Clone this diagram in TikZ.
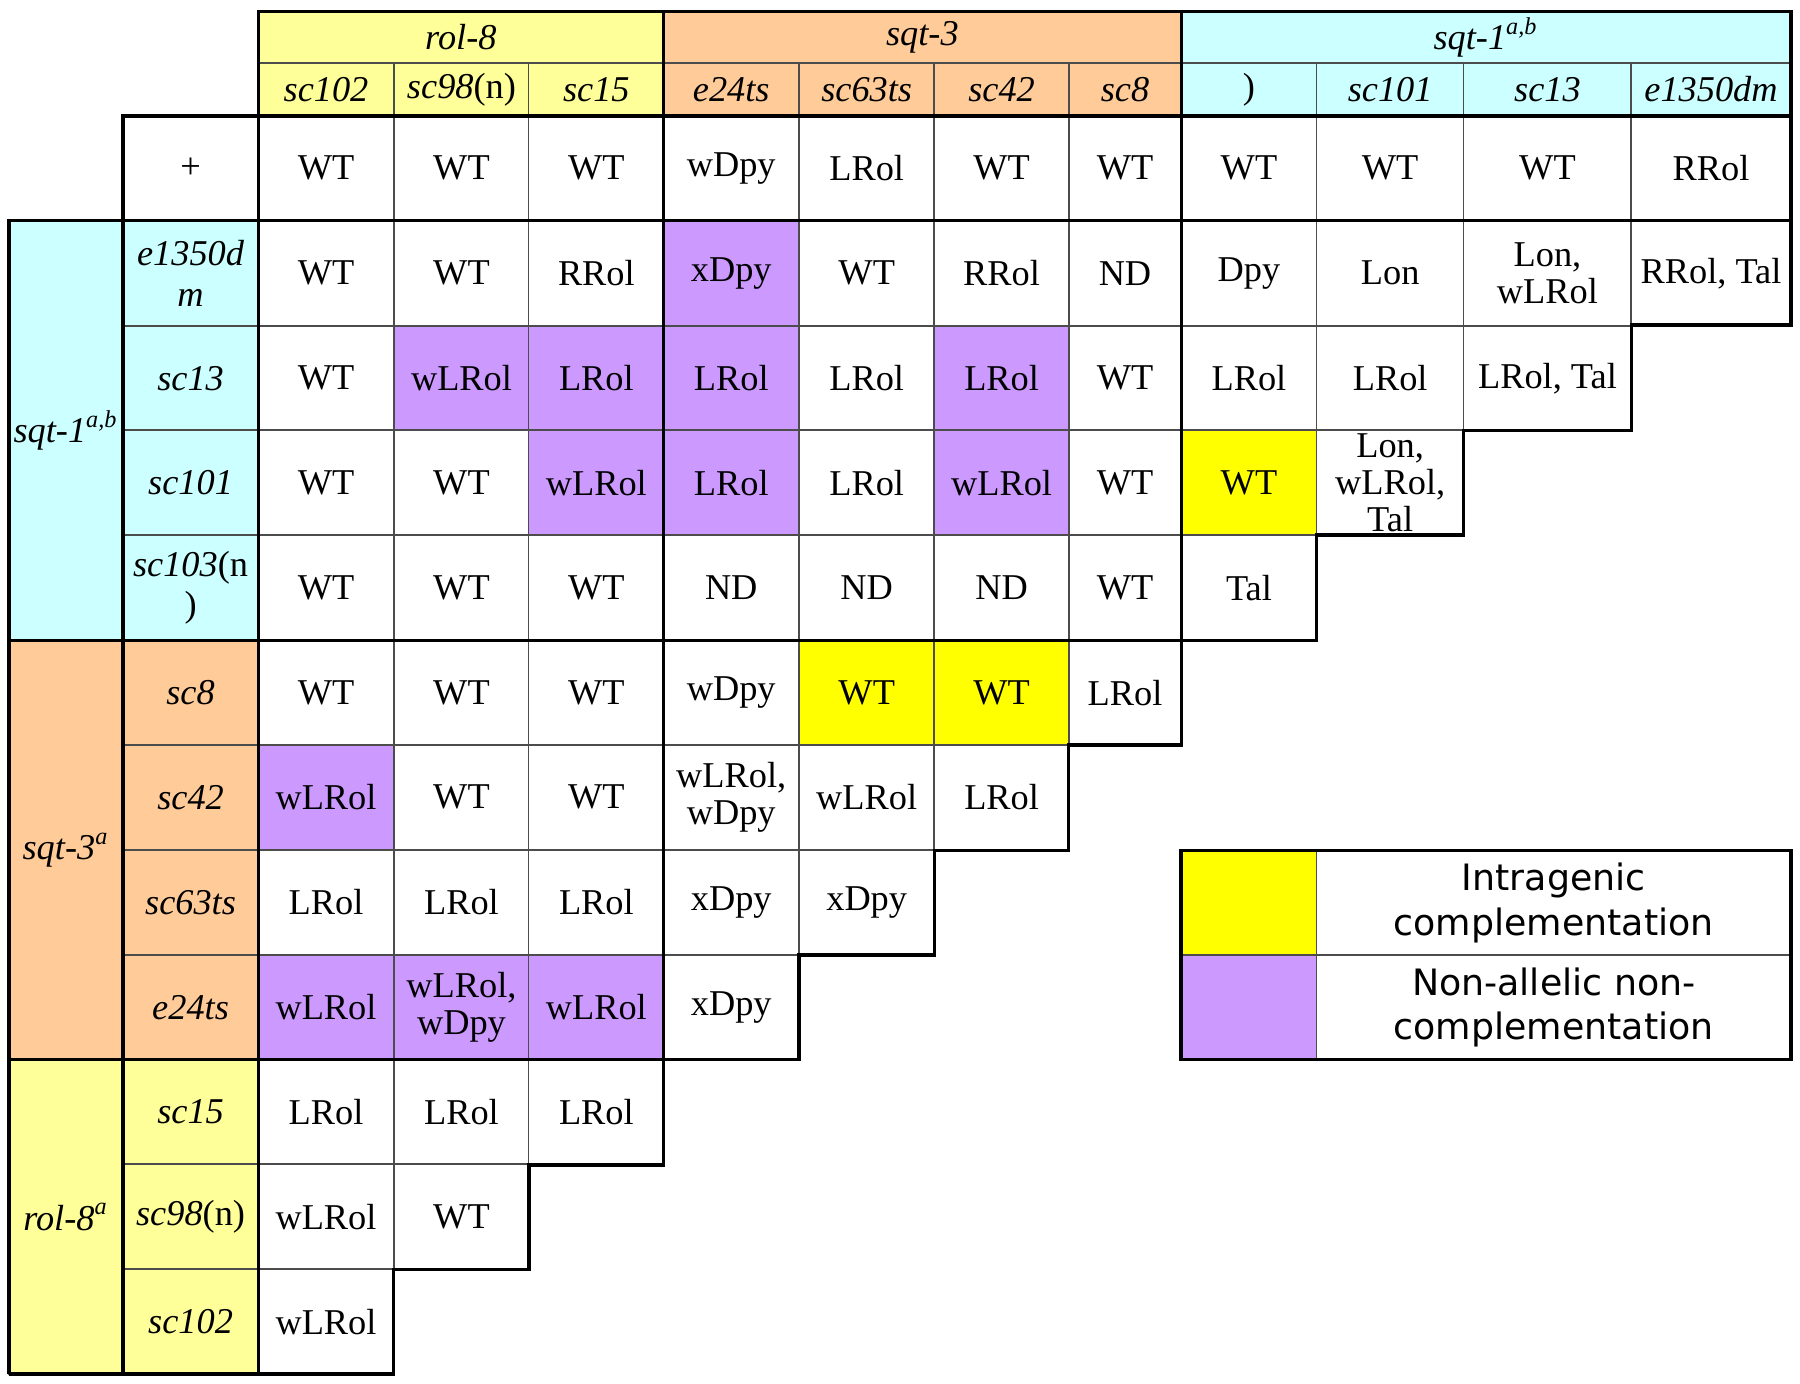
\documentclass[tikz,border=0pt]{standalone}
\usepackage{fontspec}
\setmainfont{Liberation Serif}
\newfontfamily\legfont{DejaVu Sans}
\usepackage{xcolor}
\usepackage{tikz}

\definecolor{rolcol}{HTML}{FFFF99}
\definecolor{sqtthree}{HTML}{FFCC99}
\definecolor{sqtone}{HTML}{CCFFFF}
\definecolor{naccol}{HTML}{CC99FF}
\definecolor{intracol}{HTML}{FFFF00}

\tikzstyle{cell} = [draw=black!70, line width=0.4pt, fill=white, minimum width=1.18cm, minimum height=0.913cm, inner sep=0pt, outer sep=0pt, align=center, font=\fontsize{9}{9.2}\selectfont]
\tikzstyle{lbl} = [cell, font=\fontsize{9}{10}\selectfont\itshape]
\tikzstyle{hdr} = [lbl, minimum height=0.46cm]
\tikzstyle{wb} = [minimum width=0.98cm]
\tikzstyle{wc} = [minimum width=1.28cm]
\tikzstyle{wd} = [minimum width=1.46cm]
\tikzstyle{we} = [minimum width=1.39cm]
\tikzstyle{nac} = [fill=naccol]
\tikzstyle{intra} = [fill=intracol]
\tikzstyle{border} = [line width=0.85pt, line join=miter]
\tikzstyle{legtext} = [cell, minimum width=4.13cm, font=\legfont\fontsize{9}{11}\selectfont]

\begin{document}
\begin{tikzpicture}[x=0.01cm, y=-0.01cm]
		\useasboundingbox (0,0) rectangle (1568,1205);

		% column headers
		\node (hrol) [hdr, fill=rolcol, minimum width=3.53cm, minimum height=0.45cm] at (401.5,32.5) {\raisebox{-1.5pt}{rol-8}};
		\node (hsqc) [hdr, fill=sqtthree, minimum width=4.51cm, minimum height=0.45cm] at (803.5,32.5) {sqt-3};
		\node (hsqa) [hdr, fill=sqtone, minimum width=5.31cm, minimum height=0.45cm] at (1294.5,32.5) {\raisebox{-2.2pt}{sqt-1\textsuperscript{a,b}}};

		\node (hsc102) [hdr, fill=rolcol] at (284,78) {\raisebox{-0.6pt}{sc102}};
		\node (hsc98) [hdr, fill=rolcol] at (402,78) {\raisebox{-0.6pt}{sc98\textup{(n)}}};
		\node (hsc15) [hdr, fill=rolcol] at (519.5,78) {\raisebox{-0.6pt}{sc15}};
		\node (he24) [hdr, fill=sqtthree] at (637,78) {\raisebox{-0.6pt}{e24ts}};
		\node (hsc63) [hdr, fill=sqtthree] at (755,78) {\raisebox{-0.6pt}{sc63ts}};
		\node (hsc42) [hdr, fill=sqtthree] at (872.5,78) {\raisebox{-0.6pt}{sc42}};
		\node (hsc8) [hdr, wb, fill=sqtthree] at (980,78) {\raisebox{-0.6pt}{sc8}};
		\node (hsc103) [hdr, fill=sqtone] at (1088,78) {\raisebox{-0.6pt}{\textup{)}}};
		\node (hsc101) [hdr, wc, fill=sqtone] at (1211,78) {\raisebox{-0.6pt}{sc101}};
		\node (hsc13) [hdr, wd, fill=sqtone] at (1348,78) {\raisebox{-0.6pt}{sc13}};
		\node (he1350) [hdr, we, fill=sqtone] at (1490.5,78) {\raisebox{-0.6pt}{e1350dm}};

		% row groups and row labels
		\node (gsqa) [lbl, fill=sqtone, minimum width=0.99cm, minimum height=3.66cm] at (57.5,375) {sqt-1\textsuperscript{a,b}};
		\node (gsqc) [lbl, fill=sqtthree, minimum width=0.99cm, minimum height=3.65cm] at (57.5,740.5) {sqt-3\textsuperscript{a}};
		\node (grol) [lbl, fill=rolcol, minimum width=0.99cm, minimum height=2.74cm] at (57.5,1060) {rol-8\textsuperscript{a}};

		\node (lplus) [cell] at (166,146.5) {+};
		\node (le1350) [lbl, fill=sqtone] at (166,238) {e1350d\\m};
		\node (lsc13) [lbl, fill=sqtone] at (166,329.5) {sc13};
		\node (lsc101) [lbl, fill=sqtone] at (166,420.5) {sc101};
		\node (lsc103) [lbl, fill=sqtone] at (166,512) {sc103\textup{(n}\\\textup{)}};
		\node (lsc8) [lbl, fill=sqtthree] at (166,603.5) {sc8};
		\node (lsc42) [lbl, fill=sqtthree] at (166,694.5) {sc42};
		\node (lsc63) [lbl, fill=sqtthree] at (166,786) {sc63ts};
		\node (le24) [lbl, fill=sqtthree] at (166,877.5) {e24ts};
		\node (lsc15) [lbl, fill=rolcol] at (166,968.5) {sc15};
		\node (lsc98) [lbl, fill=rolcol] at (166,1060) {sc98\textup{(n)}};
		\node (lsc102) [lbl, fill=rolcol] at (166,1151.5) {sc102};

		% row +
		\node (p1) [cell] at (284,146.5) {WT};
		\node (p2) [cell] at (402,146.5) {WT};
		\node (p3) [cell] at (519.5,146.5) {WT};
		\node (p4) [cell] at (637,146.5) {wDpy};
		\node (p5) [cell] at (755,146.5) {LRol};
		\node (p6) [cell] at (872.5,146.5) {WT};
		\node (p7) [cell, wb] at (980,146.5) {WT};
		\node (p8) [cell] at (1088,146.5) {WT};
		\node (p9) [cell, wc] at (1211,146.5) {WT};
		\node (p10) [cell, wd] at (1348,146.5) {WT};
		\node (p11) [cell, we] at (1490.5,146.5) {RRol};

		% row e1350dm
		\node (a1) [cell] at (284,238) {WT};
		\node (a2) [cell] at (402,238) {WT};
		\node (a3) [cell] at (519.5,238) {RRol};
		\node (a4) [cell, nac] at (637,238) {xDpy};
		\node (a5) [cell] at (755,238) {WT};
		\node (a6) [cell] at (872.5,238) {RRol};
		\node (a7) [cell, wb] at (980,238) {ND};
		\node (a8) [cell] at (1088,238) {Dpy};
		\node (a9) [cell, wc] at (1211,238) {Lon};
		\node (a10) [cell, wd] at (1348,238) {Lon,\\wLRol};
		\node (a11) [cell, we] at (1490.5,238) {RRol, Tal};

		% row sc13
		\node (b1) [cell] at (284,329.5) {WT};
		\node (b2) [cell, nac] at (402,329.5) {wLRol};
		\node (b3) [cell, nac] at (519.5,329.5) {LRol};
		\node (b4) [cell, nac] at (637,329.5) {LRol};
		\node (b5) [cell] at (755,329.5) {LRol};
		\node (b6) [cell, nac] at (872.5,329.5) {LRol};
		\node (b7) [cell, wb] at (980,329.5) {WT};
		\node (b8) [cell] at (1088,329.5) {LRol};
		\node (b9) [cell, wc] at (1211,329.5) {LRol};
		\node (b10) [cell, wd] at (1348,329.5) {LRol, Tal};

		% row sc101
		\node (c1) [cell] at (284,420.5) {WT};
		\node (c2) [cell] at (402,420.5) {WT};
		\node (c3) [cell, nac] at (519.5,420.5) {wLRol};
		\node (c4) [cell, nac] at (637,420.5) {LRol};
		\node (c5) [cell] at (755,420.5) {LRol};
		\node (c6) [cell, nac] at (872.5,420.5) {wLRol};
		\node (c7) [cell, wb] at (980,420.5) {WT};
		\node (c8) [cell, intra] at (1088,420.5) {WT};
		\node (c9) [cell, wc] at (1211,420.5) {Lon,\\wLRol,\\Tal};

		% row sc103(n)
		\node (d1) [cell] at (284,512) {WT};
		\node (d2) [cell] at (402,512) {WT};
		\node (d3) [cell] at (519.5,512) {WT};
		\node (d4) [cell] at (637,512) {ND};
		\node (d5) [cell] at (755,512) {ND};
		\node (d6) [cell] at (872.5,512) {ND};
		\node (d7) [cell, wb] at (980,512) {WT};
		\node (d8) [cell] at (1088,512) {Tal};

		% row sc8
		\node (e1) [cell] at (284,603.5) {WT};
		\node (e2) [cell] at (402,603.5) {WT};
		\node (e3) [cell] at (519.5,603.5) {WT};
		\node (e4) [cell] at (637,603.5) {wDpy};
		\node (e5) [cell, intra] at (755,603.5) {WT};
		\node (e6) [cell, intra] at (872.5,603.5) {WT};
		\node (e7) [cell, wb] at (980,603.5) {LRol};

		% row sc42
		\node (f1) [cell, nac] at (284,694.5) {wLRol};
		\node (f2) [cell] at (402,694.5) {WT};
		\node (f3) [cell] at (519.5,694.5) {WT};
		\node (f4) [cell] at (637,694.5) {wLRol,\\wDpy};
		\node (f5) [cell] at (755,694.5) {wLRol};
		\node (f6) [cell] at (872.5,694.5) {LRol};

		% row sc63ts
		\node (g1) [cell] at (284,786) {LRol};
		\node (g2) [cell] at (402,786) {LRol};
		\node (g3) [cell] at (519.5,786) {LRol};
		\node (g4) [cell] at (637,786) {xDpy};
		\node (g5) [cell] at (755,786) {xDpy};

		% row e24ts
		\node (h1) [cell, nac] at (284,877.5) {wLRol};
		\node (h2) [cell, nac] at (402,877.5) {wLRol,\\wDpy};
		\node (h3) [cell, nac] at (519.5,877.5) {wLRol};
		\node (h4) [cell] at (637,877.5) {xDpy};

		% rows of rol-8
		\node (i1) [cell] at (284,968.5) {LRol};
		\node (i2) [cell] at (402,968.5) {LRol};
		\node (i3) [cell] at (519.5,968.5) {LRol};
		\node (j1) [cell] at (284,1060) {wLRol};
		\node (j2) [cell] at (402,1060) {WT};
		\node (k1) [cell] at (284,1151.5) {wLRol};

		% legend
		\node (lgy) [cell, intra] at (1088,786.5) {};
		\node (lgp) [cell, nac] at (1088,877.5) {};
		\node (lgt1) [legtext] at (1353.5,786.5) {\raisebox{-1.6pt}{\parbox{4cm}{\centering Intragenic\\complementation}}};
		\node (lgt2) [legtext] at (1353.5,877.5) {\raisebox{-1.2pt}{\parbox{4cm}{\centering Non-allelic non-\\complementation}}};

		% heavy rules
		\draw [border] (8,1197) -- (343,1197) -- (343,1106) -- (461,1106) -- (461,1015) -- (578,1015) -- (578,923) -- (696,923) -- (696,832) -- (814,832) -- (814,741) -- (931,741) -- (931,649) -- (1029,649) -- (1029,558) -- (1147,558) -- (1147,466) -- (1275,466) -- (1275,375) -- (1421,375) -- (1421,283) -- (1560,283) -- (1560,10) -- (225,10) -- (225,1197);
		\draw [border] (8,1197) -- (8,192) -- (1560,192);
		\draw [border] (107,1197) -- (107,101) -- (1560,101);
		\draw [border] (578,10) -- (578,1015);
		\draw [border] (1029,10) -- (1029,649);
		\draw [border] (8,558) -- (1147,558);
		\draw [border] (8,923) -- (696,923);
		\draw [border] (lgy.north west) rectangle (lgt2.south east);
	\end{tikzpicture}
\end{document}
